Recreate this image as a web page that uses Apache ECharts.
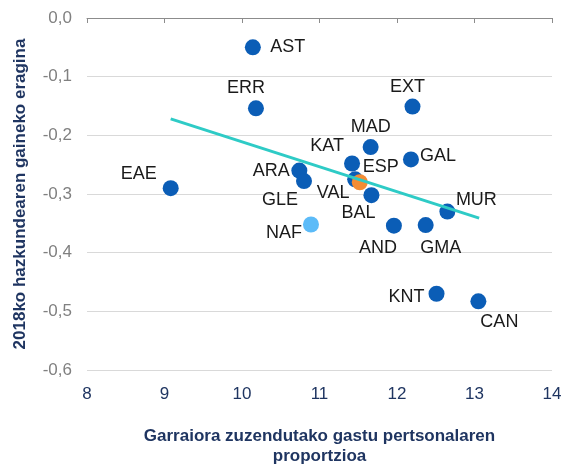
<!DOCTYPE html>
<html>
<head>
<meta charset="utf-8">
<script src="https://cdn.jsdelivr.net/npm/echarts@6/dist/echarts.min.js"></script>
<style>
  html, body { margin: 0; padding: 0; background: #fff; }
  #chart { width: 563px; height: 464px; }
</style>
</head>
<body>
<div id="chart"></div>
<script>
// regions
const names = ['AST', 'ERR', 'EXT', 'MAD', 'KAT', 'GAL', 'VAL', 'ESP', 'BAL', 'ARA', 'GLE', 'NAF', 'AND', 'GMA', 'MUR', 'KNT', 'CAN', 'EAE'];
const xValues = [10.14, 10.18, 12.20, 11.66, 11.42, 12.18, 11.46, 11.52, 11.67, 10.74, 10.80, 10.89, 11.96, 12.37, 12.65, 12.51, 13.05, 9.08];
const yValues = [-0.050, -0.154, -0.151, -0.220, -0.248, -0.241, -0.275, -0.280, -0.302, -0.260, -0.278, -0.352, -0.354, -0.353, -0.330, -0.470, -0.483, -0.290];

// linear trend line end points
const trendX = [9.08, 13.06];
const trendY = [-0.172, -0.341];

const xTicks = [8, 9, 10, 11, 12, 13, 14];

const chart = echarts.init(document.getElementById('chart'));

// label offsets (px) from dot centre
const labelOffset = {
    AST: [35, 0], ERR: [-10, -20], EXT: [-5, -20], MAD: [0, -20], KAT: [-25, -17],
    GAL: [27, -3], VAL: [-22, 14], ESP: [21, -15], BAL: [-13, 18], ARA: [-28, 0],
    GLE: [-24, 19], NAF: [-27, 9], AND: [-16, 22], GMA: [15, 23], MUR: [29, -12],
    KNT: [-30, 3], CAN: [21, 21], EAE: [-32, -14]
};
const specialColor = { ESP: '#F48C34', NAF: '#5CBBF8' };

const points = names.map((n, i) => ({
    name: n,
    value: [xValues[i], yValues[i]],
    itemStyle: { color: specialColor[n] || '#0B5DB6', opacity: 1 },
    label: { offset: labelOffset[n] },
    z: n === 'ESP' ? 3 : 2
}));

const navy = '#1F3561';

chart.setOption({
    animation: false,
    textStyle: { fontFamily: 'Liberation Sans, Arial, sans-serif' },
    grid: { left: 87, right: 11, top: 18, bottom: 94, containLabel: false, outerBoundsMode: 'none' },
    xAxis: [{
        type: 'value', min: xTicks[0], max: xTicks[xTicks.length - 1], interval: 1,
        position: 'bottom',
        axisLine: { show: false }, axisTick: { show: false }, splitLine: { show: false },
        axisLabel: { color: navy, fontSize: 17, margin: 16 },
        name: 'Garraiora zuzendutako gastu pertsonalaren\nproportzioa',
        nameLocation: 'middle', nameGap: 56,
        nameTextStyle: { color: navy, fontSize: 17, fontWeight: 'bold', lineHeight: 20 }
    }, {
        type: 'value', min: xTicks[0], max: xTicks[xTicks.length - 1], interval: 1,
        position: 'top',
        axisLine: { show: true, lineStyle: { color: '#8C8C8C', width: 1 } },
        axisTick: { show: true, inside: true, length: 5, lineStyle: { color: '#8C8C8C' } },
        axisLabel: { show: false }, splitLine: { show: false }
    }],
    yAxis: {
        type: 'value', min: -0.6, max: 0, interval: 0.1,
        axisLine: { show: false }, axisTick: { show: false },
        splitLine: { lineStyle: { color: '#D9D9D9', width: 1 } },
        axisLabel: {
            color: '#808080', fontSize: 17, margin: 15,
            formatter: v => v.toFixed(1).replace('.', ',').replace('-0,0', '0,0')
        },
        name: '2018ko hazkundearen gaineko eragina',
        nameLocation: 'middle', nameGap: 58, nameRotate: 90,
        nameTextStyle: { color: navy, fontSize: 17, fontWeight: 'bold' }
    },
    series: [{
        type: 'scatter',
        symbolSize: 16,
        data: points,
        label: {
            show: true, position: 'inside', formatter: '{b}',
            color: '#1A1A1A', fontSize: 18, align: 'center', verticalAlign: 'middle'
        },
        z: 2
    }, {
        type: 'line',
        data: trendX.map((x, i) => [x, trendY[i]]),
        symbol: 'none',
        lineStyle: { color: '#2ECBC6', width: 3 },
        z: 4
    }]
});
</script>
</body>
</html>
